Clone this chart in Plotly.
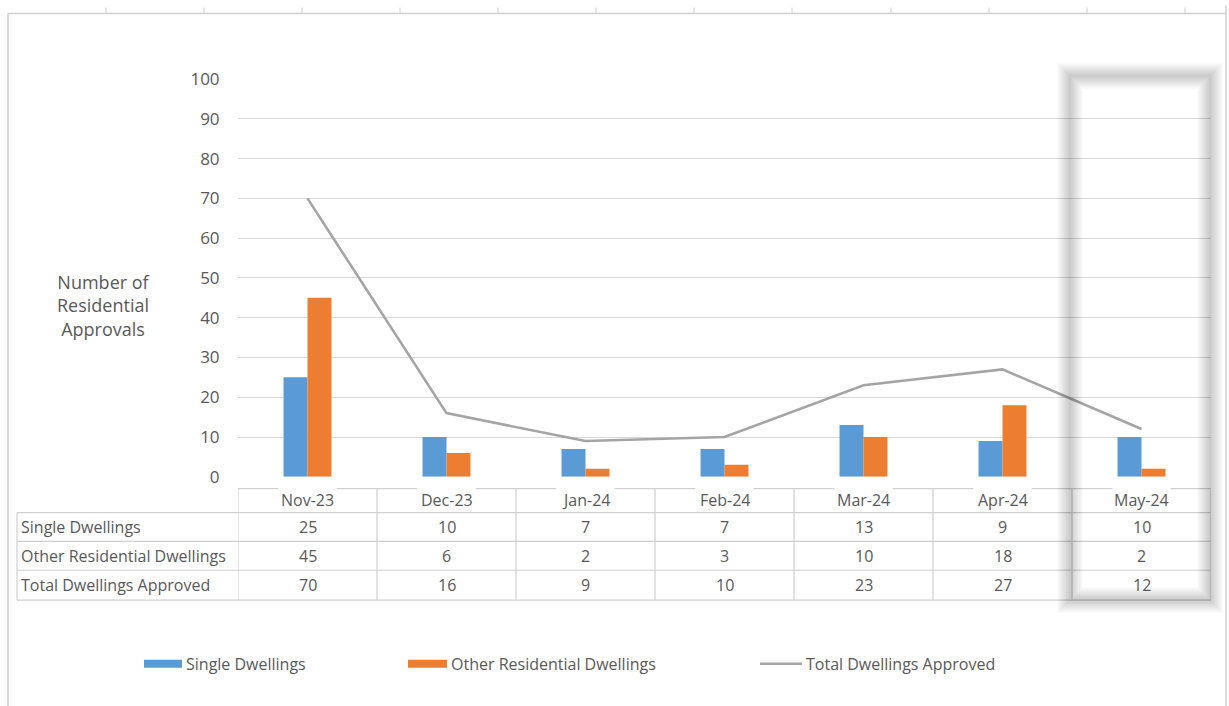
import plotly.graph_objects as go

W, H = 1229, 706

months = ["Nov-23", "Dec-23", "Jan-24", "Feb-24", "Mar-24", "Apr-24", "May-24"]
single = [25, 10, 7, 7, 13, 9, 10]
other = [45, 6, 2, 3, 10, 18, 2]
total = [70, 16, 9, 10, 23, 27, 12]
series_names = ["Single Dwellings", "Other Residential Dwellings", "Total Dwellings Approved"]
y_ticks = [0, 10, 20, 30, 40, 50, 60, 70, 80, 90, 100]

BLUE = "#5B9BD5"
ORANGE = "#ED7D31"
GRAY = "#A5A5A5"
TXT = "#595959"
GRID = "#D9D9D9"
FONT = "Open Sans"
FS = 16

# vertical calibration of the rendered page
Y_OFF = 8.5
Y_SPAN = 687.0


def px(x):
    return x / W


def py(y):
    return 1 - (y - Y_OFF) / Y_SPAN


fig = go.Figure()
fig.add_trace(go.Bar(x=months, y=single, name=series_names[0], marker_color=BLUE,
                     marker_line_width=0, showlegend=False))
fig.add_trace(go.Bar(x=months, y=other, name=series_names[1], marker_color=ORANGE,
                     marker_line_width=0, showlegend=False))
fig.add_trace(go.Scatter(x=months, y=total, name=series_names[2], mode="lines",
                         line=dict(color=GRAY, width=2.6), showlegend=False))

plot_l, plot_r = 238, 1211
plot_top, plot_bot = 76, 476

fig.update_layout(
    width=W, height=H,
    margin=dict(l=0, r=0, t=0, b=0),
    paper_bgcolor="white", plot_bgcolor="white",
    barmode="group", bargap=0.655, bargroupgap=0,
    font=dict(family=FONT, color=TXT, size=FS),
    xaxis=dict(domain=[px(plot_l), px(plot_r)], range=[-0.5, 6.5],
               showticklabels=False, showgrid=False, zeroline=False, ticks=""),
    yaxis=dict(domain=[py(plot_bot), py(plot_top)], range=[0, 100],
               tickvals=y_ticks, showgrid=True, gridcolor=GRID, gridwidth=1,
               zeroline=False, ticks="outside", ticklen=14,
               tickcolor="rgba(0,0,0,0)", tickfont=dict(size=17, color=TXT)),
    showlegend=False,
)

shapes = []
annotations = []
LC = "#D0D0D0"

# Outer chart frame
shapes.append(dict(type="line", xref="paper", yref="paper", x0=px(8), x1=px(1226),
                   y0=py(10), y1=py(10), line=dict(color=LC, width=1.5)))
shapes.append(dict(type="line", xref="paper", yref="paper", x0=px(8), x1=px(8),
                   y0=py(10), y1=py(720), line=dict(color=LC, width=1.5)))
shapes.append(dict(type="line", xref="paper", yref="paper", x0=px(1226), x1=px(1226),
                   y0=py(2), y1=py(720), line=dict(color=LC, width=1.5)))
for tx in [106, 204, 302, 400, 498, 596, 694, 792, 891, 989, 1087, 1185]:
    shapes.append(dict(type="line", xref="paper", yref="paper", x0=px(tx), x1=px(tx),
                       y0=py(4), y1=py(10), line=dict(color=LC, width=1)))

# Data table
row_tops = [488, 512, 541, 570, 600]
n = len(months)
for i in range(n):
    shapes.append(dict(type="line", xref="x", yref="paper", x0=i - 0.5, x1=i - 0.21,
                       y0=py(row_tops[0]), y1=py(row_tops[0]), line=dict(color=LC, width=1.2)))
    shapes.append(dict(type="line", xref="x", yref="paper", x0=i + 0.21, x1=i + 0.5,
                       y0=py(row_tops[0]), y1=py(row_tops[0]), line=dict(color=LC, width=1.2)))
for yy in row_tops[1:]:
    shapes.append(dict(type="line", xref="paper", yref="paper", x0=px(17), x1=px(plot_r),
                       y0=py(yy), y1=py(yy), line=dict(color=LC, width=1.2)))
for i in range(n + 1):
    shapes.append(dict(type="line", xref="x", yref="paper", x0=i - 0.5, x1=i - 0.5,
                       y0=py(row_tops[0]), y1=py(row_tops[-1]), line=dict(color=LC, width=1.2)))
shapes.append(dict(type="line", xref="paper", yref="paper", x0=px(17), x1=px(17),
                   y0=py(row_tops[1]), y1=py(row_tops[-1]), line=dict(color=LC, width=1.2)))

for m in months:
    annotations.append(dict(x=m, xref="x", y=py(499), yref="paper", text=m,
                            showarrow=False, xanchor="center", yanchor="middle",
                            font=dict(size=FS, color=TXT)))
rows = [single, other, total]
for r, (name, vals) in enumerate(zip(series_names, rows)):
    yc = (row_tops[r + 1] + row_tops[r + 2]) / 2
    annotations.append(dict(x=px(19), xref="paper", y=py(yc), yref="paper", text=name,
                            showarrow=False, xanchor="left", yanchor="middle",
                            font=dict(size=FS, color=TXT)))
    for m, v in zip(months, vals):
        annotations.append(dict(x=m, xref="x", y=py(yc), yref="paper", text=str(v),
                                showarrow=False, xanchor="center", yanchor="middle",
                                font=dict(size=FS, color=TXT)))

# Y axis title
annotations.append(dict(x=px(104), xref="paper", y=py(304), yref="paper",
                        text="Number of<br>Residential<br>Approvals", showarrow=False,
                        xanchor="center", yanchor="middle", align="center",
                        font=dict(size=18, color=TXT)))

# Legend (manual)
leg_y = 664
leg = [(144, 182, BLUE, "bar", series_names[0]),
       (408, 447, ORANGE, "bar", series_names[1]),
       (760, 802, GRAY, "line", series_names[2])]
for x0, x1, col, kind, name in leg:
    if kind == "bar":
        shapes.append(dict(type="rect", xref="paper", yref="paper", x0=px(x0), x1=px(x1),
                           y0=py(leg_y + 4), y1=py(leg_y - 4), fillcolor=col,
                           line=dict(width=0)))
    else:
        shapes.append(dict(type="line", xref="paper", yref="paper", x0=px(x0), x1=px(x1),
                           y0=py(leg_y), y1=py(leg_y), line=dict(color=col, width=2.6)))
    annotations.append(dict(x=px(x1 + 2), xref="paper", y=py(leg_y), yref="paper",
                            text=name, showarrow=False, xanchor="left", yanchor="middle",
                            font=dict(size=FS, color=TXT)))

# Highlight box with soft shadow around May-24
hx0, hx1, hy0, hy1 = 1070, 1210, 73, 600
for w in range(26, 0, -2):
    shapes.append(dict(type="rect", xref="paper", yref="paper", x0=px(hx0), x1=px(hx1),
                       y0=py(hy1), y1=py(hy0), line=dict(color="rgba(0,0,0,0.017)", width=w),
                       fillcolor="rgba(0,0,0,0)", layer="above"))

fig.update_layout(shapes=shapes, annotations=annotations)
fig.write_html("out.html")
